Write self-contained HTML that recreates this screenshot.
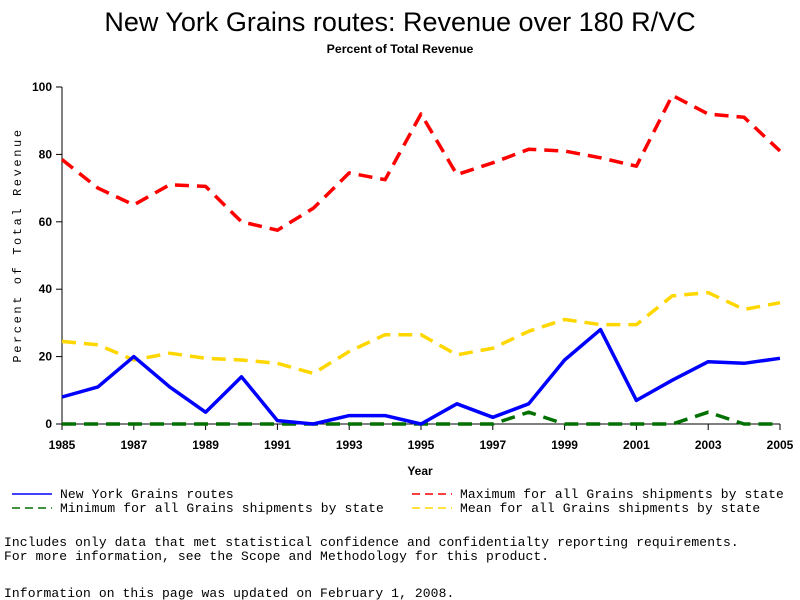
<!DOCTYPE html>
<html><head><meta charset="utf-8"><style>
body{margin:0;background:#fff;}
svg{display:block;font-family:"Liberation Sans",sans-serif;}
.m{font-family:"Liberation Mono",monospace;font-size:13px;letter-spacing:0.1px;}
.t{font-family:"Liberation Sans",sans-serif;font-weight:bold;font-size:12px;}
</style></head><body>
<svg id="c" width="800" height="600">
<text x="400" y="31" text-anchor="middle" font-size="27">New York Grains routes: Revenue over 180 R/VC</text>
<text x="400" y="53" text-anchor="middle" class="t" font-size="12.3" style="font-size:12.3px">Percent of Total Revenue</text>
<text transform="translate(21,245) rotate(-90)" text-anchor="middle" class="m" style="font-size:12px;letter-spacing:2.6px">Percent of Total Revenue</text>
<text x="420" y="475" text-anchor="middle" class="t">Year</text>
<g id="axes"></g><g id="series"></g>
<g>
<line x1="12" y1="494" x2="52" y2="494" stroke="#0000ff" stroke-width="1.5"/>
<text x="60" y="498" class="m">New York Grains routes</text>
<line x1="12" y1="508" x2="52" y2="508" stroke="#007000" stroke-width="1.5" stroke-dasharray="8,5"/>
<text x="60" y="512" class="m">Minimum for all Grains shipments by state</text>
<line x1="412" y1="494" x2="452" y2="494" stroke="#ff0000" stroke-width="1.5" stroke-dasharray="8,5"/>
<text x="460" y="498" class="m">Maximum for all Grains shipments by state</text>
<line x1="412" y1="508" x2="452" y2="508" stroke="#ffd700" stroke-width="1.5" stroke-dasharray="8,5"/>
<text x="460" y="512" class="m">Mean for all Grains shipments by state</text>
</g>
<text x="4" y="546" class="m">Includes only data that met statistical confidence and confidentialty reporting requirements.</text>
<text x="4" y="560" class="m">For more information, see the Scope and Methodology for this product.</text>
<text x="4" y="597" class="m">Information on this page was updated on February 1, 2008.</text>
</svg>
<script>
const years=[1985,1986,1987,1988,1989,1990,1991,1992,1993,1994,1995,1996,1997,1998,1999,2000,2001,2002,2003,2004,2005];
const nyValues=[8,11,20,11,3.5,14,1,0,2.5,2.5,0,6,2,6,19,28,7,13,18.5,18,19.5];
const maxValues=[78.5,70,65,71,70.5,60,57.5,64,74.5,72.5,92,74,77.5,81.5,81,79,76.5,97.5,92,91,81];
const meanValues=[24.5,23.5,19,21,19.5,19,18,15,21.5,26.5,26.5,20.5,22.5,27.5,31,29.5,29.5,38,39,34,36];
const minValues=[0,0,0,0,0,0,0,0,0,0,0,0,0,3.5,0,0,0,0,3.5,0,0];
const yTicks=[0,20,40,60,80,100];
const xTicks=[1985,1987,1989,1991,1993,1995,1997,1999,2001,2003,2005];
const X=y=>62+(y-1985)*(780-62)/20, Y=v=>424-v*3.37;
const NS="http://www.w3.org/2000/svg";
function mk(p,t,a){const e=document.createElementNS(NS,t);for(const k in a)e.setAttribute(k,a[k]);p.appendChild(e);return e;}
const ax=document.getElementById('axes');
let l=mk(ax,'line',{x1:62,y1:87,x2:62,y2:424,stroke:'#000'});


l=mk(ax,'line',{x1:62,y1:424,x2:780,y2:424,stroke:'#000'});


yTicks.forEach(v=>{mk(ax,'line',{x1:56,y1:Y(v),x2:62,y2:Y(v),stroke:'#000'});
const t=mk(ax,'text',{x:52,y:Y(v)+4,'text-anchor':'end',class:'t'});t.textContent=v;

});
xTicks.forEach(v=>{mk(ax,'line',{x1:X(v),y1:424,x2:X(v),y2:430,stroke:'#000'});
const t=mk(ax,'text',{x:X(v),y:449,'text-anchor':'middle',class:'t'});t.textContent=v;

});
const sg=document.getElementById('series');
function draw(vals,color,dash,name){
 const d=vals.map((v,i)=>(i?'L':'M')+X(years[i]).toFixed(1)+','+Y(v).toFixed(1)).join(' ');
 const p=mk(sg,'path',{d:d,fill:'none',stroke:color,'stroke-width':3.5,'stroke-linejoin':'round'});
 if(dash)p.setAttribute('stroke-dasharray',dash);
 
 
}
draw(maxValues,'#ff0000','14,8','max-line');
draw(meanValues,'#ffd700','14,8','mean-line');
draw(minValues,'#007000','14,8','min-line');
draw(nyValues,'#0000ff',null,'ny-line');
</script>
</body></html>
